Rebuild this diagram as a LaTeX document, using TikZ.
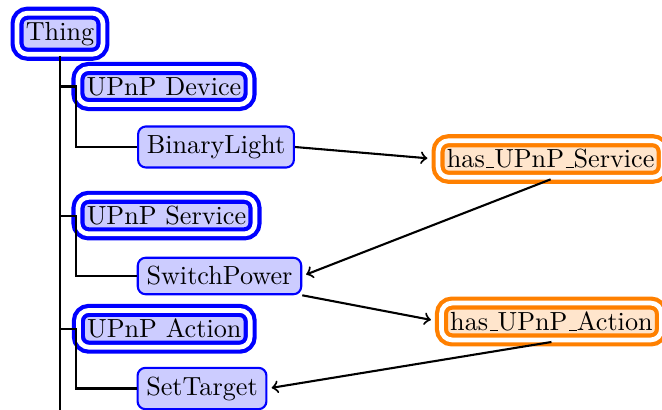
\documentclass[tikz,border=0pt]{standalone}
\newcommand\lowbar{\kern.06em\rule{.3em}{.4pt}}
\begin{document}
\begin{tikzpicture}[x=0.3817pt,y=-0.3817pt,
  dbl/.style={draw=blue, ultra thick, double=white, double distance=1.8pt, fill=blue!20, rounded corners=4pt},
  dblo/.style={dbl, draw=orange, fill=orange!20},
  leaf/.style={draw=blue, thick, fill=blue!20, rounded corners=3pt},
  treeline/.style={thick, black},
  rel/.style={thick, ->}]
\path[use as bounding box, clip] (0,0) rectangle (662,410);
% nodes
\node[dbl] (thing) at (60,33.7) {Thing};
\node[dbl] (dev) at (164,86.5) {UPnP Device};
\node[leaf] (bin) at (216,147) {BinaryLight};
\node[dblo, anchor=west] (hserv) at (436,159) {has\lowbar UPnP\lowbar Service};
\node[dbl] (svc) at (166.5,215.6) {UPnP Service};
\node[leaf] (sw) at (219.5,276) {SwitchPower};
\node[dbl] (act) at (164.3,328.8) {UPnP Action};
\node[dblo, anchor=west] (hact) at (439.4,321.5) {has\lowbar UPnP\lowbar Action};
\node[leaf] (set) at (202,388.5) {SetTarget};
\coordinate (bottom) at (60,420);
% tree
\draw[treeline] (thing.south) -- (thing.south |- bottom);
\draw[treeline] (thing.south |- dev.west) -- (dev.west) -- (dev.west |- bin.west) -- (bin.west);
\draw[treeline] (thing.south |- svc.west) -- (svc.west) -- (svc.west |- sw.west) -- (sw.west);
\draw[treeline] (thing.south |- act.west) -- (act.west) -- (act.west |- set.west) -- (set.west);
% relations
\draw[rel, shorten >=3.3pt] (bin.east) -- (hserv.west);
\draw[rel, shorten >=1.6pt] (hserv.south) -- (sw.east);
\draw[rel, shorten >=3.3pt] (sw.south east) -- (hact.west);
\draw[rel, shorten >=1.6pt] (hact.south) -- (set.east);
\end{tikzpicture}
\end{document}
